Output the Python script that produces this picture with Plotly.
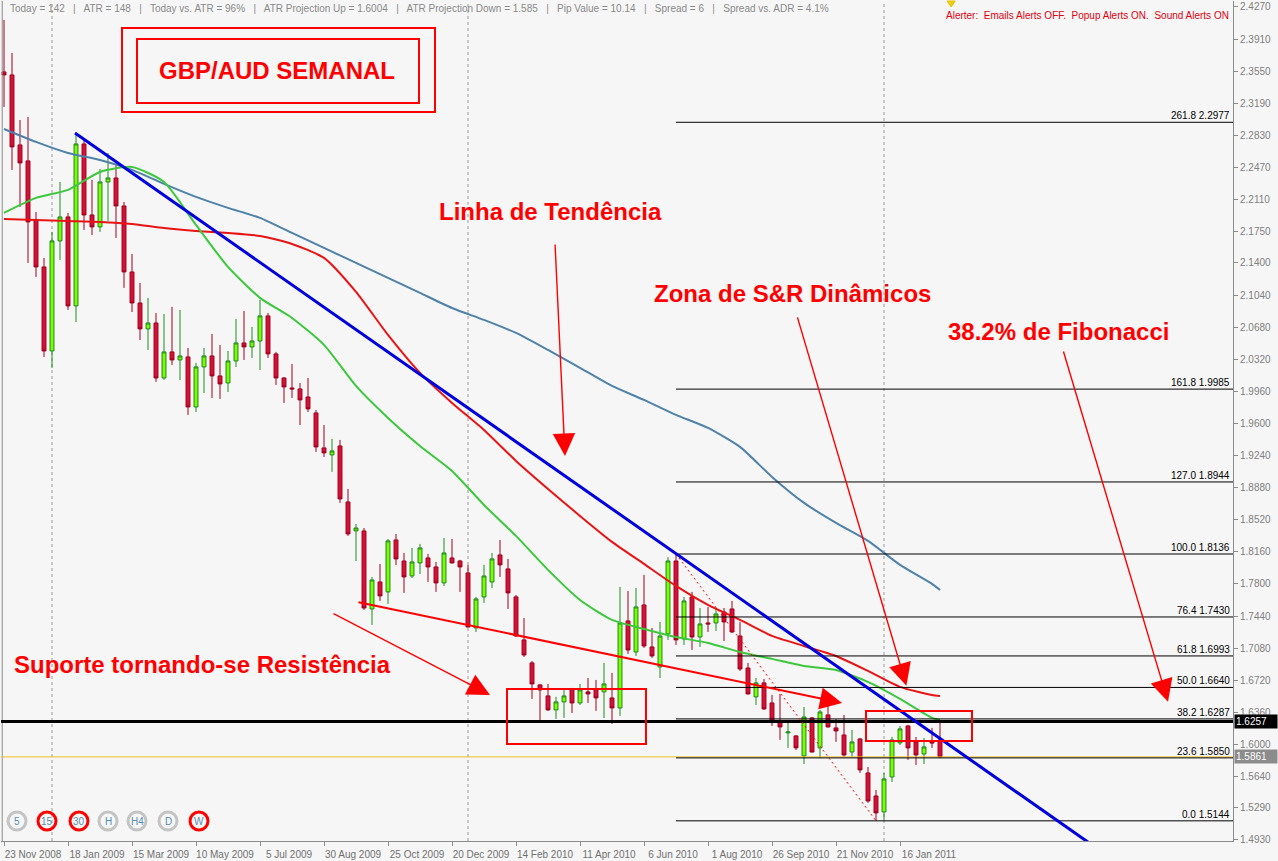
import plotly.graph_objects as go
import pandas as pd

# ------------------------------------------------------------------ data
start_week = "2008-11-23"

opens = [2.3542, 2.3508, 2.2723, 2.2544, 2.1882, 2.1355, 2.0413, 2.1647, 2.1916, 2.0918,
         2.2734, 2.1938, 2.1804, 2.2308, 2.2353, 2.2039, 2.1299, 2.0951, 2.0660, 2.0727,
         2.0110, 2.0402, 2.0312, 2.0346, 1.9785, 2.0234, 2.0357, 2.0133, 2.0054, 2.0301,
         2.0503, 2.0458, 2.0525, 2.0806, 2.0380, 2.0110, 1.9998, 1.9987, 1.9897, 1.9718,
         1.9326, 1.9247, 1.9348, 1.8720, 1.8395, 1.8395, 1.7520, 1.7823, 1.7711, 1.8294,
         1.8058, 1.7890, 1.8036, 1.8092, 1.7991, 1.7812, 1.8092, 1.8058, 1.7924, 1.7307,
         1.7655, 1.7823, 1.8126, 1.7969, 1.7655, 1.7173, 1.6915, 1.6668, 1.6545, 1.6388,
         1.6478, 1.6623, 1.6466, 1.6590, 1.6623, 1.6590, 1.6522, 1.6410, 1.7386, 1.7038,
         1.7565, 1.7094, 1.6870, 1.7240, 1.8058, 1.7184, 1.7655, 1.7206, 1.7363, 1.7363,
         1.7486, 1.7520, 1.7217, 1.6858, 1.6534, 1.6691, 1.6466, 1.6253, 1.6130, 1.6096,
         1.5872, 1.6298, 1.5962, 1.6332, 1.6186, 1.6107, 1.5916, 1.6062, 1.5681, 1.5423,
         1.5244, 1.5636, 1.6018, 1.6208, 1.6029, 1.5894, 1.6029, 1.6051]
highs = [2.4125, 2.3755, 2.3003, 2.3037, 2.1972, 2.1456, 2.1748, 2.2308, 2.1961, 2.2858,
         2.2779, 2.2331, 2.2454, 2.2633, 2.2510, 2.2084, 2.1501, 2.1176, 2.1008, 2.0839,
         2.0828, 2.0907, 2.0873, 2.0447, 2.0279, 2.0447, 2.0604, 2.0480, 2.0413, 2.0772,
         2.0862, 2.0682, 2.0985, 2.0839, 2.0402, 2.0121, 2.0268, 2.0054, 2.0110, 1.9752,
         1.9583, 1.9427, 1.9415, 1.8866, 1.8473, 1.8428, 1.7879, 1.8025, 1.8305, 1.8361,
         1.8148, 1.8204, 1.8249, 1.8137, 1.8047, 1.8316, 1.8305, 1.8070, 1.8014, 1.7655,
         1.8014, 1.8148, 1.8294, 1.8081, 1.7677, 1.7419, 1.6937, 1.6679, 1.6679, 1.6534,
         1.6612, 1.6634, 1.6679, 1.6746, 1.6724, 1.6915, 1.6803, 1.7767, 1.7722, 1.7756,
         1.7902, 1.7307, 1.7374, 1.8100, 1.8136, 1.7655, 1.7711, 1.7531, 1.7543, 1.7531,
         1.7531, 1.7610, 1.7374, 1.6915, 1.6746, 1.6735, 1.6556, 1.6567, 1.6253, 1.6107,
         1.6421, 1.6309, 1.6388, 1.6466, 1.6287, 1.6332, 1.6163, 1.6074, 1.5748, 1.5491,
         1.5681, 1.6085, 1.6208, 1.6220, 1.6085, 1.6074, 1.6186, 1.6264]
lows = [2.3149, 2.2443, 2.2028, 2.1400, 2.1243, 2.0346, 2.0223, 2.1434, 2.0873, 2.0738,
        2.1770, 2.1714, 2.1748, 2.1871, 2.1680, 2.1120, 2.0850, 2.0536, 2.0424, 2.0066,
        2.0088, 2.0256, 2.0088, 1.9696, 1.9729, 1.9942, 1.9886, 1.9875, 1.9953, 2.0234,
        2.0312, 2.0335, 2.0200, 2.0335, 2.0032, 1.9830, 1.9886, 1.9583, 1.9729, 1.9281,
        1.9225, 1.9057, 1.8709, 1.8339, 1.8058, 1.7509, 1.7341, 1.7610, 1.7576, 1.8013,
        1.7700, 1.7868, 1.7913, 1.7823, 1.7711, 1.7778, 1.8030, 1.7711, 1.7312, 1.7262,
        1.7588, 1.7756, 1.7879, 1.7520, 1.7206, 1.6982, 1.6511, 1.6242, 1.6377, 1.6287,
        1.6298, 1.6354, 1.6444, 1.6466, 1.6377, 1.6298, 1.6231, 1.6321, 1.7016, 1.6993,
        1.7083, 1.6971, 1.6747, 1.7173, 1.7116, 1.7117, 1.7060, 1.7094, 1.7262, 1.7273,
        1.7161, 1.7251, 1.6825, 1.6560, 1.6444, 1.6388, 1.6208, 1.6052, 1.5962, 1.5939,
        1.5782, 1.5910, 1.5849, 1.6190, 1.6029, 1.5861, 1.5861, 1.5681, 1.5345, 1.5144,
        1.5150, 1.5580, 1.5995, 1.5827, 1.5771, 1.5782, 1.5962, 1.5855]
closes = [2.3508, 2.2701, 2.2521, 2.1860, 2.1355, 2.0413, 2.1647, 2.1916, 2.0918, 2.2734,
          2.1938, 2.1804, 2.2308, 2.2353, 2.2039, 2.1299, 2.0951, 2.0660, 2.0727, 2.0110,
          2.0402, 2.0312, 2.0357, 1.9785, 2.0234, 2.0357, 2.0133, 2.0043, 2.0301, 2.0503,
          2.0458, 2.0525, 2.0806, 2.0380, 2.0110, 2.0009, 1.9987, 1.9864, 1.9763, 1.9337,
          1.9270, 1.9292, 1.8754, 1.8361, 1.8428, 1.7531, 1.7845, 1.7666, 1.8283, 1.8081,
          1.7879, 1.8047, 1.8204, 1.7991, 1.7812, 1.8148, 1.8036, 1.7991, 1.7318, 1.7632,
          1.7890, 1.8081, 1.8014, 1.7700, 1.7217, 1.7004, 1.6679, 1.6612, 1.6388, 1.6478,
          1.6545, 1.6466, 1.6612, 1.6567, 1.6522, 1.6679, 1.6410, 1.7363, 1.7060, 1.7543,
          1.7105, 1.6993, 1.7217, 1.8058, 1.7173, 1.7610, 1.7206, 1.7352, 1.7352, 1.7464,
          1.7374, 1.7262, 1.6847, 1.6567, 1.6691, 1.6399, 1.6253, 1.6197, 1.6141, 1.5962,
          1.6309, 1.5916, 1.6365, 1.6197, 1.6152, 1.5883, 1.6029, 1.5715, 1.5367, 1.5233,
          1.5614, 1.6051, 1.6175, 1.5962, 1.5883, 1.5973, 1.6018, 1.5861]

date_labels = ["23 Nov 2008", "18 Jan 2009", "15 Mar 2009", "10 May 2009", "5 Jul 2009",
               "30 Aug 2009", "25 Oct 2009", "20 Dec 2009", "14 Feb 2010", "11 Apr 2010",
               "6 Jun 2010", "1 Aug 2010", "26 Sep 2010", "21 Nov 2010", "16 Jan 2011"]
price_ticks = [2.4270, 2.3910, 2.3550, 2.3190, 2.2830, 2.2470, 2.2110, 2.1750, 2.1400,
               2.1040, 2.0680, 2.0320, 1.9960, 1.9600, 1.9240, 1.8880, 1.8520, 1.8160,
               1.7800, 1.7440, 1.7080, 1.6720, 1.6360, 1.6000, 1.5640, 1.5290, 1.4930]

# moving averages, read at every 4th bar (bar numbers)
ma_bars = [0, 4, 8, 12, 16, 20, 24, 28, 32, 36, 40, 44, 48, 52, 56, 60, 64, 68, 72, 76,
           80, 84, 88, 92, 96, 100, 104, 108, 112, 116, 117]
ma_slow = [2.2902, 2.2757, 2.2633, 2.2555, 2.2443, 2.2286, 2.2140, 2.2017, 2.1905, 2.1736,
           2.1568, 2.1400, 2.1232, 2.1064, 2.0895, 2.0761, 2.0615, 2.0424, 2.0223, 2.0021,
           1.9864, 1.9696, 1.9550, 1.9337, 1.9000, 1.8709, 1.8485, 1.8283, 1.8014, 1.7801,
           1.7733]
ma_fast = [2.1961, 2.2129, 2.2219, 2.2420, 2.2476, 2.2308, 2.1826, 2.1355, 2.1008, 2.0783,
           2.0481, 2.0021, 1.9662, 1.9348, 1.9068, 1.8686, 1.8339, 1.7958, 1.7621, 1.7397,
           1.7296, 1.7206, 1.7139, 1.7038, 1.6960, 1.6881, 1.6836, 1.6702, 1.6511, 1.6298,
           1.6276]
ma_mid = [2.1893, 2.1882, 2.1871, 2.1860, 2.1837, 2.1792, 2.1759, 2.1736, 2.1703, 2.1613,
          2.1456, 2.1075, 2.0593, 2.0167, 1.9830, 1.9527, 1.9180, 1.8866, 1.8563, 1.8272,
          1.8025, 1.7778, 1.7565, 1.7397, 1.7218, 1.7105, 1.6993, 1.6825, 1.6646, 1.6556,
          1.6545]

fib_ratios = ["261.8", "161.8", "127.0", "100.0", "76.4", "61.8", "50.0", "38.2", "23.6", "0.0"]
fib_prices = [2.2977, 1.9985, 1.8944, 1.8136, 1.7430, 1.6993, 1.6640, 1.6287, 1.5850, 1.5144]
fib_start_bar = 84
fib_swing = [(84, 1.8136), (109, 1.5144)]

trend_line = [(8.875, 2.2858), (140.0, 1.4623)]
support_line = [(44.125, 1.7599), (104.75, 1.6466)]
year_separators = ["2009-01-04", "2010-01-03", "2011-01-02"]
price_line = 1.6257
bid_price = 1.5861
shift_marker_bar = 118.4

# arrows: (tail bar, tail price, head bar, head price)
arrows = [(41.0, 1.7476, 60.75, 1.6556),
          (68.875, 2.1624, 70.125, 1.9236),
          (99.125, 2.0806, 112.8, 1.6660),
          (132.375, 2.0424, 145.5, 1.6480)]
# rectangles: (bar0, price0, bar1, price1)
boxes = [(14.75, 2.4035, 53.875, 2.3093),
         (16.625, 2.3912, 51.875, 2.3194),
         (62.875, 1.6623, 80.25, 1.6007),
         (107.75, 1.6377, 121.0, 1.6040)]

timeframes = ["5", "15", "30", "H", "H4", "D", "W"]
tf_marked = [False, True, True, False, False, False, True]

info_text = ("Today = 142   |   ATR = 148   |   Today vs. ATR = 96%   |   ATR Projection Up = 1.6004"
             "   |   ATR Projection Down = 1.585   |   Pip Value = 10.14   |   Spread = 6   |   "
             "Spread vs. ADR = 4.1%")
alert_text = "Alerter:  Emails Alerts OFF.  Popup Alerts ON.  Sound Alerts ON"

# ------------------------------------------------------------------ helpers
W, H = 1278, 861
ML, MR, MT, MB = 1, 45, 1, 20
PW, PH = W - ML - MR, H - MT - MB
start = pd.Timestamp(start_week)
n = len(opens)
bars = list(range(n))


def bar_of(date_str):
    return (pd.Timestamp(date_str) - start).days / 7.0


def pxx(x):
    return (x - ML) / PW


def pxy(y):
    return (MT + PH - y) / PH


x_lo = -0.375
x_hi = x_lo + PW / 8.0
y_hi = 2.4337
y_lo = 1.4918

FONT = "Liberation Sans, Arial, sans-serif"
RED = "#FF0000"

fig = go.Figure()

fig.add_trace(go.Candlestick(
    x=bars, open=opens, high=highs, low=lows, close=closes,
    increasing=dict(line=dict(color="#1E8A1E", width=1), fillcolor="#7CFC00"),
    decreasing=dict(line=dict(color="#A0001E", width=1), fillcolor="#D41136"),
    whiskerwidth=0, hoverinfo="skip", showlegend=False))

for vals, col in [(ma_slow, "#4F82AA"), (ma_mid, "#E81414"), (ma_fast, "#3CC83C")]:
    fig.add_trace(go.Scatter(x=ma_bars, y=vals, mode="lines",
                             line=dict(color=col, width=2, shape="spline", smoothing=0.6),
                             hoverinfo="skip", showlegend=False))

shapes = []
# yearly separators
for d in year_separators:
    b = bar_of(d)
    shapes.append(dict(type="line", xref="x", yref="paper", x0=b, x1=b, y0=0, y1=1,
                       line=dict(color="#9A9A9A", width=1, dash="3px,3px"), layer="below"))
# left frame
shapes.append(dict(type="line", xref="paper", yref="paper", x0=0.001, x1=0.001, y0=0, y1=1,
                   line=dict(color="#8C8C8C", width=1)))
# bid line and price line
shapes.append(dict(type="line", xref="x", yref="y", x0=x_lo, x1=x_hi, y0=bid_price, y1=bid_price,
                   line=dict(color="#F0C020", width=1)))
# fibonacci levels
for lvl in fib_prices:
    shapes.append(dict(type="line", xref="x", yref="y", x0=fib_start_bar, x1=x_hi, y0=lvl, y1=lvl,
                       line=dict(color="#000000", width=1)))
shapes.append(dict(type="line", xref="x", yref="y", x0=x_lo, x1=x_hi, y0=price_line, y1=price_line,
                   line=dict(color="#000000", width=3)))
# fib swing
shapes.append(dict(type="line", xref="x", yref="y",
                   x0=fib_swing[0][0], y0=fib_swing[0][1], x1=fib_swing[1][0], y1=fib_swing[1][1],
                   line=dict(color=RED, width=1, dash="2px,3px")))
# trend line
shapes.append(dict(type="line", xref="x", yref="y",
                   x0=trend_line[0][0], y0=trend_line[0][1], x1=trend_line[1][0], y1=trend_line[1][1],
                   line=dict(color="#0000DD", width=3)))
# rectangles
for (b0, p0, b1, p1) in boxes:
    shapes.append(dict(type="rect", xref="x", yref="y", x0=b0, y0=p0, x1=b1, y1=p1,
                       line=dict(color=RED, width=2), fillcolor="rgba(0,0,0,0)"))
# chart-shift marker (small triangle at the top)
shapes.append(dict(type="path", xref="x", yref="paper", xsizemode="pixel", ysizemode="pixel",
                   xanchor=shift_marker_bar, yanchor=1, path="M -4,0 L 4,0 L 0,-6 Z",
                   line=dict(color="#E8C400", width=1), fillcolor="#F0CC00"))
# timeframe buttons
btn_x = [17, 47, 79, 108, 137, 168, 199]
for bx, marked in zip(btn_x, tf_marked):
    shapes.append(dict(type="circle", xref="paper", yref="paper",
                       xsizemode="pixel", ysizemode="pixel",
                       xanchor=pxx(bx), yanchor=pxy(821), x0=-9, x1=9, y0=-9, y1=9,
                       line=dict(color=RED if marked else "#C4C4C4", width=3),
                       fillcolor="rgba(0,0,0,0)"))

annotations = []
# support line with arrow head
annotations.append(dict(x=support_line[1][0], y=support_line[1][1], xref="x", yref="y",
                        ax=support_line[0][0], ay=support_line[0][1], axref="x", ayref="y",
                        showarrow=True, arrowhead=2, arrowsize=2.2, arrowwidth=2,
                        arrowcolor=RED, text="", standoff=0))
for (tb, tp, hb, hp) in arrows:
    annotations.append(dict(x=hb, y=hp, xref="x", yref="y", ax=tb, ay=tp, axref="x", ayref="y",
                            showarrow=True, arrowhead=2, arrowsize=3.2, arrowwidth=1.4,
                            arrowcolor=RED, text="", standoff=0))

big = dict(family=FONT, size=24, color=RED, weight="bold")
annotations += [
    dict(text="GBP/AUD SEMANAL", x=pxx(277), y=pxy(70), xanchor="center", yanchor="middle"),
    dict(text="Linha de Tendência", x=pxx(437), y=pxy(211), xanchor="left", yanchor="middle"),
    dict(text="Zona de S&R Dinâmicos", x=pxx(652), y=pxy(293), xanchor="left", yanchor="middle"),
    dict(text="38.2% de Fibonacci", x=pxx(946), y=pxy(331), xanchor="left", yanchor="middle"),
    dict(text="Suporte tornando-se Resistência", x=pxx(12), y=pxy(664), xanchor="left",
         yanchor="middle"),
]
for a in annotations[-5:]:
    a.update(xref="paper", yref="paper", showarrow=False, font=big)

# fib labels
for r, lvl in zip(fib_ratios, fib_prices):
    annotations.append(dict(text=f"{r} {lvl:.4f}", x=pxx(1231), y=lvl, xref="paper", yref="y",
                            xanchor="right", yanchor="bottom", showarrow=False,
                            font=dict(family=FONT, size=10, color="#000000"), borderpad=0))
# info texts
annotations.append(dict(text=info_text, x=pxx(8), y=pxy(9), xref="paper", yref="paper",
                        xanchor="left", yanchor="middle", showarrow=False,
                        font=dict(family=FONT, size=10, color="#8A8A8A")))
annotations.append(dict(text=alert_text, x=pxx(1231), y=pxy(15), xref="paper", yref="paper",
                        xanchor="right", yanchor="middle", showarrow=False,
                        font=dict(family=FONT, size=10, color="#E00010")))
# price label boxes on the axis
for val, bg in [(price_line, "#000000"), (bid_price, "#8C8C8C")]:
    annotations.append(dict(text=f"{val:.4f}", x=pxx(1234), y=val, xref="paper", yref="y",
                            xanchor="left", yanchor="middle", showarrow=False,
                            bgcolor=bg, borderpad=1, width=40, align="left",
                            font=dict(family=FONT, size=10, color="#FFFFFF")))
# timeframe labels
for bx, t in zip(btn_x, timeframes):
    annotations.append(dict(text=t, x=pxx(bx), y=pxy(821), xref="paper", yref="paper",
                            xanchor="center", yanchor="middle", showarrow=False,
                            font=dict(family=FONT, size=10, color="#5A8FB0")))

tick_bars = [bar_of(pd.to_datetime(lbl, format="%d %b %Y").strftime("%Y-%m-%d"))
             for lbl in date_labels]

fig.update_layout(
    width=W, height=H,
    margin=dict(l=ML, r=MR, t=MT, b=MB, pad=0),
    paper_bgcolor="#F6F6F6", plot_bgcolor="#F6F6F6",
    showlegend=False,
    shapes=shapes, annotations=annotations,
    xaxis=dict(range=[x_lo, x_hi], rangeslider=dict(visible=False), showgrid=False,
               zeroline=False, showline=True, linecolor="#8C8C8C", linewidth=1,
               ticks="outside", ticklen=4, tickcolor="#8C8C8C",
               tickvals=tick_bars, ticktext=date_labels, ticklabelshift=29,
               tickfont=dict(family=FONT, size=10, color="#707070")),
    yaxis=dict(range=[y_lo, y_hi], side="right", showgrid=False, zeroline=False,
               showline=True, linecolor="#8C8C8C", linewidth=1,
               ticks="outside", ticklen=4, tickcolor="#8C8C8C",
               tickvals=price_ticks, ticktext=[f"{v:.4f}" for v in price_ticks],
               tickfont=dict(family=FONT, size=10, color="#808080")),
)

fig.write_html("out.html", config={"displayModeBar": False},
               post_script="document.body.style.margin='0';")
